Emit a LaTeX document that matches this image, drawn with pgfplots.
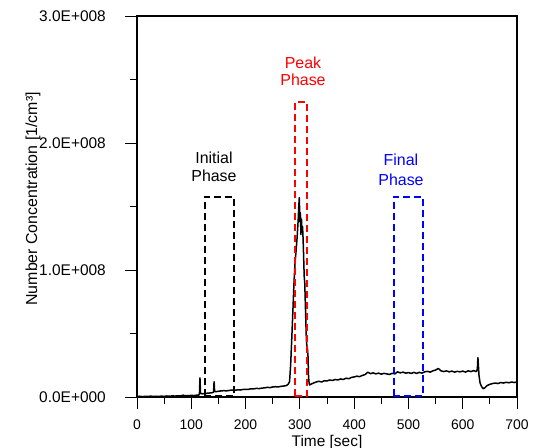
\documentclass[border=0pt]{standalone}
\usepackage{fontspec}
\setmainfont{Liberation Sans}
\usepackage{pgfplots}
\pgfplotsset{compat=1.18}
\begin{document}
\fontsize{15.5}{18}\selectfont
\begin{tikzpicture}[font=\fontsize{15.5}{18}\selectfont]
\begin{axis}[
  font=\fontsize{15.5}{18}\selectfont,
  scale only axis, width=380bp, height=381bp,
  xmin=0, xmax=700, ymin=0, ymax=3e8,
  axis line style={line width=1.1bp},
  xtick={0,100,...,700}, minor xtick={50,150,...,650},
  ytick={0,1e8,2e8,3e8}, minor ytick={0.5e8,1.5e8,2.5e8},
  yticklabels={0.0E+000,1.0E+008,2.0E+008,3.0E+008},
  scaled y ticks=false,
  tick align=outside, tick pos=left,
  major tick length=12bp, minor tick length=7bp,
  every tick/.style={black, line width=0.8bp},
  /pgf/number format/assume math mode=true,
  every x tick label/.append style={font=\fontsize{14}{16}\selectfont, anchor=north, inner sep=0pt, yshift=-11bp},
  every y tick label/.append style={font=\fontsize{15.5}{18}\selectfont, anchor=east, inner sep=0pt, xshift=-19bp},
  xlabel={Time [sec]}, ylabel={Number Concentration [1/cm³]},
  xlabel style={font=\fontsize{15.5}{18}\selectfont, at={(axis description cs:0.5,0)}, anchor=base, inner sep=0pt, yshift=-49bp},
  ylabel style={font=\fontsize{16}{18}\selectfont, at={(axis description cs:-0.263,0.52)}, rotate=0, anchor=base, inner sep=0pt},
  clip=false,
]
\coordinate (sw) at (rel axis cs:0,0);
\coordinate (ne) at (rel axis cs:1,1);
\addplot[black, line width=1.5bp, line join=round] coordinates {
(0,0.3e6)(5,0.6e6)(10,0.3e6)(15,0.5e6)(20,0.4e6)(25,0.7e6)(30,0.4e6)(35,0.6e6)(40,0.4e6)(45,0.7e6)
(50,0.5e6)(55,0.8e6)(60,0.6e6)(65,0.9e6)(70,0.7e6)(75,1.0e6)(80,0.8e6)(85,1.5e6)(88,0.9e6)(90,1.1e6)
(95,1.0e6)(100,1.3e6)(105,1.1e6)(110,1.5e6)(113,1.4e6)(115,2.0e6)(116,15e6)(117,3e6)(120,2.5e6)(125,2.8e6)
(130,3.0e6)(135,3.2e6)(140,3.5e6)(141,3.8e6)(142,12e6)(143,4.5e6)(145,4.2e6)(150,4.5e6)(155,4.8e6)(160,5.0e6)
(165,4.8e6)(170,5.2e6)(175,5.5e6)(180,5.3e6)(185,5.6e6)(190,5.5e6)(195,5.9e6)(200,6.1e6)(205,6.0e6)(210,6.5e6)
(215,6.4e6)(220,6.8e6)(225,6.6e6)(230,7.0e6)(235,7.2e6)(240,7.6e6)(245,7.4e6)(250,7.9e6)(255,8.1e6)(260,7.9e6)
(265,8.4e6)(270,8.6e6)(275,9.0e6)(278,9.8e6)(281,12e6)(283,25e6)(285,45e6)(287,66e6)(289,88e6)(291,105e6)
(293,115e6)(295,126e6)(297,140e6)(298,150e6)(299,157e6)(300,138e6)(301,145e6)(302,128e6)(303,140e6)(304,130e6)
(305,134e6)(306,124e6)(307,110e6)(308,95e6)(309,90e6)(310,75e6)(311,60e6)(312,45e6)(313,40e6)(314,38e6)
(315,32e6)(316,16e6)(317,11e6)(318,9.5e6)(320,10e6)(325,11e6)(330,11.8e6)(335,12.4e6)(340,11.8e6)(345,12.8e6)
(350,12.6e6)(355,13.4e6)(360,13e6)(365,13.8e6)(370,13.4e6)(375,14.2e6)(380,13.8e6)(385,14.8e6)(390,14.4e6)(395,15.4e6)
(400,15.8e6)(405,16.4e6)(410,16e6)(415,17e6)(420,17.6e6)(425,19.5e6)(430,18.4e6)(435,19e6)(440,18.2e6)(445,18.8e6)
(450,18e6)(455,18.6e6)(460,18.2e6)(465,17.8e6)(470,18.6e6)(475,18.2e6)(480,19.8e6)(485,19e6)(490,19.6e6)(495,18.8e6)
(500,19.2e6)(505,18.6e6)(510,19.4e6)(515,18.6e6)(520,19.4e6)(525,18.8e6)(530,19.8e6)(535,20.2e6)(540,19.6e6)(545,20.6e6)
(550,21.2e6)(555,22.5e6)(560,20.6e6)(565,20e6)(570,20.6e6)(575,19.8e6)(580,20.4e6)(585,19.6e6)(590,20.2e6)(595,19.8e6)
(600,20.4e6)(605,19.6e6)(610,20.6e6)(615,20e6)(620,20.8e6)(625,20e6)(627,22e6)(628,31e6)(629,24e6)(630,17e6)
(632,11e6)(635,8e6)(638,6.5e6)(640,7e6)(645,9e6)(650,10e6)(655,10.6e6)(660,11e6)(665,10.6e6)(670,11.4e6)
(675,11e6)(680,11.6e6)(685,11.2e6)(690,11.8e6)(695,11.4e6)(700,11.8e6)
};
\addplot[black, line width=1.8bp, dash pattern=on 7bp off 4bp] coordinates {(125,0.5e6)(125,1.575e8)(179,1.575e8)(179,0.5e6)(125,0.5e6)};
\addplot[red, line width=1.8bp, dash pattern=on 7bp off 4bp] coordinates {(291,0.5e6)(291,2.32e8)(313,2.32e8)(313,0.5e6)(291,0.5e6)};
\addplot[blue, line width=1.8bp, dash pattern=on 7bp off 4bp] coordinates {(473,0.5e6)(473,1.575e8)(527,1.575e8)(527,0.5e6)(473,0.5e6)};
\begin{scope}[every node/.style={anchor=base, inner sep=0pt, font=\fontsize{16}{19}\selectfont}]
\node[black] at (axis cs:141.8,1.8425e8) {Initial};
\node[black] at (axis cs:141.8,1.693e8) {Phase};
\node[red] at (axis cs:305.8,2.59e8) {Peak};
\node[red] at (axis cs:305.8,2.449e8) {Phase};
\node[blue] at (axis cs:486.3,1.819e8) {Final};
\node[blue] at (axis cs:486.3,1.669e8) {Phase};
\end{scope}
\end{axis}
\pgfresetboundingbox
\path[use as bounding box] ([xshift=-137bp,yshift=-51bp]sw) rectangle ([xshift=26bp,yshift=16bp]ne);
\end{tikzpicture}
\end{document}
